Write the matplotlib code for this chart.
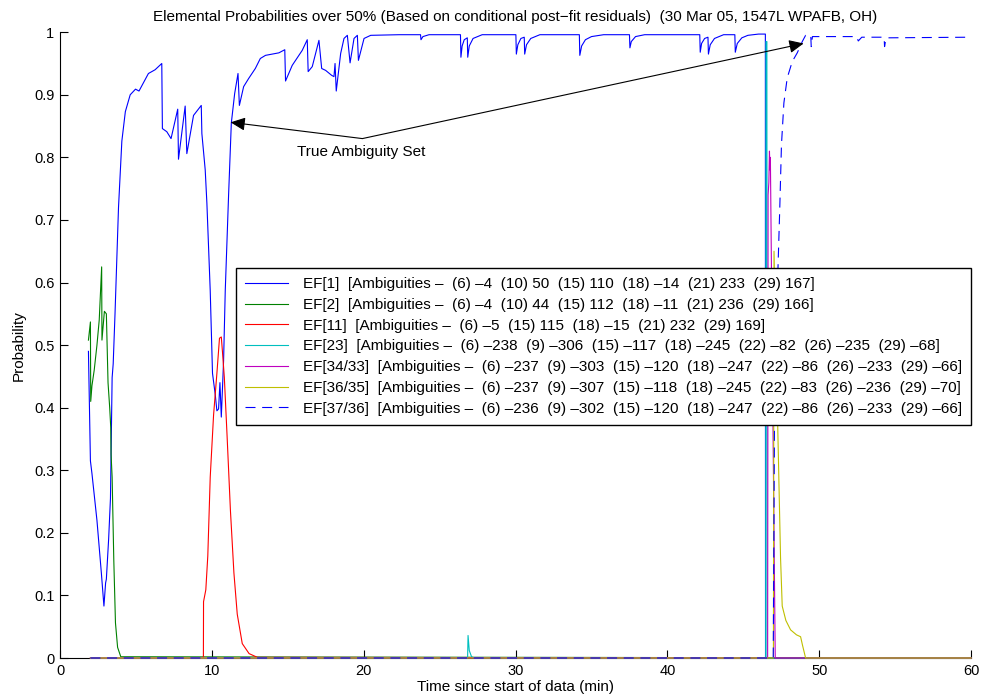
import matplotlib
matplotlib.use("Agg")
import matplotlib.pyplot as plt

plt.rcParams['font.family'] = ['Liberation Sans', 'DejaVu Sans']

# Elemental probabilities vs time (min) for each ambiguity set
ef1_t = [1.87, 2.0, 2.1, 2.43, 2.72, 2.89, 3.0, 3.05, 3.2, 3.32, 3.43, 3.5, 3.62, 3.85, 4.07, 4.3,
         4.62, 4.97, 5.2, 5.82, 6.26, 6.70, 6.74, 7.03, 7.31, 7.75, 7.80, 8.24, 8.35, 8.79, 9.30,
         9.34, 9.56, 9.67, 9.89, 10.04, 10.22, 10.33, 10.44, 10.53, 10.62, 10.77, 10.88, 11.10,
         11.28, 11.50, 11.72, 11.81, 12.09, 12.42, 12.86, 13.19, 13.53, 13.96, 14.41, 14.80,
         14.85, 15.29, 15.95, 16.28, 16.34, 16.61, 17.05, 17.23, 17.49, 17.89, 18.04, 18.11,
         18.19, 18.48, 18.70, 18.92, 19.10, 19.36, 19.58, 19.65, 20.02, 20.46, 22.33,
         23.74, 23.77, 23.9, 24.3,
         26.37, 26.40, 26.48, 26.62, 26.82, 26.85, 26.95, 27.2, 27.8,
         30.02, 30.05, 30.15, 30.35, 30.57, 30.60, 30.72, 31.0, 31.6,
         34.20, 34.23, 34.35, 34.6, 35.0, 35.8,
         37.50, 37.53, 37.62, 37.9, 38.5,
         42.13, 42.16, 42.25, 42.45, 42.67, 42.70, 42.82, 43.1, 43.7,
         44.44, 44.47, 44.6, 44.9, 45.3, 46.0, 46.45, 46.46, 60.0]
ef1_p = [0.49, 0.315, 0.295, 0.22, 0.136, 0.083, 0.12, 0.126, 0.19, 0.255, 0.448, 0.47, 0.55,
         0.72, 0.826, 0.873, 0.90, 0.909, 0.906, 0.934, 0.940, 0.950, 0.846, 0.841, 0.830,
         0.877, 0.797, 0.882, 0.806, 0.867, 0.883, 0.838, 0.78, 0.727, 0.587, 0.455, 0.421,
         0.395, 0.398, 0.44, 0.385, 0.475, 0.587, 0.74, 0.855, 0.902, 0.934, 0.883, 0.913,
         0.926, 0.942, 0.958, 0.963, 0.965, 0.967, 0.972, 0.922, 0.947, 0.971, 0.988, 0.937,
         0.945, 0.987, 0.942, 0.939, 0.931, 0.929, 0.95, 0.906, 0.966, 0.99, 0.995, 0.951,
         0.99, 0.995, 0.955, 0.99, 0.995, 0.996,
         0.996, 0.988, 0.993, 0.996,
         0.996, 0.96, 0.978, 0.988, 0.991, 0.96, 0.978, 0.99, 0.996,
         0.996, 0.965, 0.98, 0.99, 0.992, 0.965, 0.98, 0.99, 0.996,
         0.996, 0.963, 0.978, 0.988, 0.993, 0.996,
         0.996, 0.975, 0.985, 0.993, 0.996,
         0.996, 0.968, 0.982, 0.99, 0.992, 0.965, 0.98, 0.99, 0.996,
         0.996, 0.968, 0.982, 0.991, 0.995, 0.997, 0.997, 0.0, 0.0]

ef2_t = [1.87, 2.0, 2.02, 2.1, 2.25, 2.43, 2.58, 2.74, 2.76, 2.92, 3.05, 3.16, 3.27, 3.34, 3.36,
         3.43, 3.54, 3.65, 3.79, 4.0, 60.0]
ef2_p = [0.508, 0.537, 0.41, 0.435, 0.46, 0.50, 0.54, 0.625, 0.508, 0.554, 0.55, 0.44, 0.40,
         0.368, 0.325, 0.289, 0.156, 0.056, 0.017, 0.002, 0.0]

ef11_t = [2.0, 9.44, 9.45, 9.6, 9.73, 9.89, 10.11, 10.33, 10.5, 10.62, 10.7, 10.82, 11.0, 11.22,
          11.45, 11.67, 12.0, 12.45, 13.0, 60.0]
ef11_p = [0.0, 0.0, 0.09, 0.109, 0.163, 0.289, 0.388, 0.455, 0.511, 0.513, 0.488, 0.448, 0.355,
          0.236, 0.136, 0.07, 0.023, 0.007, 0.001, 0.0]

ef23_t = [2.0, 26.84, 26.87, 26.95, 27.1, 27.3, 46.47, 46.49, 46.55, 46.57, 60.0]
ef23_p = [0.0, 0.0, 0.036, 0.012, 0.002, 0.0, 0.0, 0.985, 0.985, 0.0, 0.0]

ef34_t = [2.0, 46.6, 46.63, 46.68, 46.72, 46.75, 46.78, 47.1, 60.0]
ef34_p = [0.0, 0.0, 0.74, 0.76, 0.81, 0.78, 0.80, 0.0, 0.0]

ef36_t = [2.0, 46.98, 47.02, 47.1, 47.27, 47.45, 47.56, 47.8, 48.11, 48.5, 48.77, 48.9, 49.1, 60.0]
ef36_p = [0.0, 0.0, 0.65, 0.55, 0.364, 0.16, 0.083, 0.06, 0.045, 0.037, 0.034, 0.02, 0.0, 0.0]

ef37_t = [2.0, 46.97, 47.05, 47.2, 47.29, 47.4, 47.51, 47.67, 47.89, 48.22, 48.55, 48.88, 49.1,
          49.44, 49.47, 49.55, 52.45, 52.57, 52.8, 54.27, 54.3, 54.4, 60.0]
ef37_p = [0.0, 0.0, 0.38, 0.56, 0.63, 0.72, 0.82, 0.887, 0.927, 0.953, 0.967, 0.985, 0.995,
          0.995, 0.977, 0.993, 0.993, 0.986, 0.992, 0.992, 0.977, 0.991, 0.992]

labels = [
    "EF[1]  [Ambiguities –  (6) –4  (10) 50  (15) 110  (18) –14  (21) 233  (29) 167]",
    "EF[2]  [Ambiguities –  (6) –4  (10) 44  (15) 112  (18) –11  (21) 236  (29) 166]",
    "EF[11]  [Ambiguities –  (6) –5  (15) 115  (18) –15  (21) 232  (29) 169]",
    "EF[23]  [Ambiguities –  (6) –238  (9) –306  (15) –117  (18) –245  (22) –82  (26) –235  (29) –68]",
    "EF[34/33]  [Ambiguities –  (6) –237  (9) –303  (15) –120  (18) –247  (22) –86  (26) –233  (29) –66]",
    "EF[36/35]  [Ambiguities –  (6) –237  (9) –307  (15) –118  (18) –245  (22) –83  (26) –236  (29) –70]",
    "EF[37/36]  [Ambiguities –  (6) –236  (9) –302  (15) –120  (18) –247  (22) –86  (26) –233  (29) –66]",
]

fig = plt.figure(figsize=(9.86, 7.0), dpi=100)
ax = fig.add_axes([0.0609, 0.06, 0.924, 0.894])

lw = 0.8
style = dict(lw=lw, clip_on=False, zorder=3)
ax.plot(ef1_t, ef1_p, color=(0, 0, 1), label=labels[0], **style)
ax.plot(ef2_t, ef2_p, color=(0, 0.5, 0), label=labels[1], **style)
ax.plot(ef11_t, ef11_p, color=(1, 0, 0), label=labels[2], **style)
ax.plot(ef23_t, ef23_p, color=(0, 0.75, 0.75), label=labels[3], **style)
ax.plot(ef34_t, ef34_p, color=(0.75, 0, 0.75), label=labels[4], **style)
ax.plot(ef36_t, ef36_p, color=(0.75, 0.75, 0), label=labels[5], **style)
ax.plot(ef37_t, ef37_p, color=(0, 0, 1), ls=(0, (9, 6)), label=labels[6], **style)

ax.set_xlim(0, 60)
ax.set_ylim(0, 1)
ax.set_xticks(range(0, 61, 10))
ax.set_yticks([i / 10 for i in range(11)])
ax.set_yticklabels(['0'] + ['%.1f' % (i / 10) for i in range(1, 10)] + ['1'])
ax.tick_params(direction='in', length=6, width=0.8, labelsize=10.5, pad=4)
for side in ['top', 'right']:
    ax.spines[side].set_visible(False)
for side in ['left', 'bottom']:
    ax.spines[side].set_linewidth(0.8)

ax.set_title("Elemental Probabilities over 50% (Based on conditional post−fit residuals)  "
             "(30 Mar 05, 1547L WPAFB, OH)", fontsize=11, pad=8)
ax.set_xlabel("Time since start of data (min)", fontsize=11, labelpad=2)
ax.set_ylabel("Probability", fontsize=11, labelpad=6)

leg = ax.legend(loc='upper right', bbox_to_anchor=(1.0, 0.623), borderaxespad=0,
                fancybox=False, edgecolor='black', framealpha=1, fontsize=11,
                handlelength=2.8, handletextpad=1.0, labelspacing=0.44, borderpad=0.6)
leg.get_frame().set_linewidth(1.0)
leg.set_zorder(5)

# Arrows from the note to both true-ambiguity curves
arrow = dict(arrowstyle='-|>,head_length=0.55,head_width=0.25', color='black', lw=0.8,
             mutation_scale=16, shrinkA=0, shrinkB=0)
ax.annotate("", xy=(11.23, 0.856), xytext=(19.91, 0.830), arrowprops=arrow)
ax.annotate("", xy=(48.97, 0.982), xytext=(19.91, 0.830), arrowprops=arrow)
ax.text(19.80, 0.808, "True Ambiguity Set", fontsize=11, ha='center', va='center')

fig.savefig("out.png", dpi=100)
